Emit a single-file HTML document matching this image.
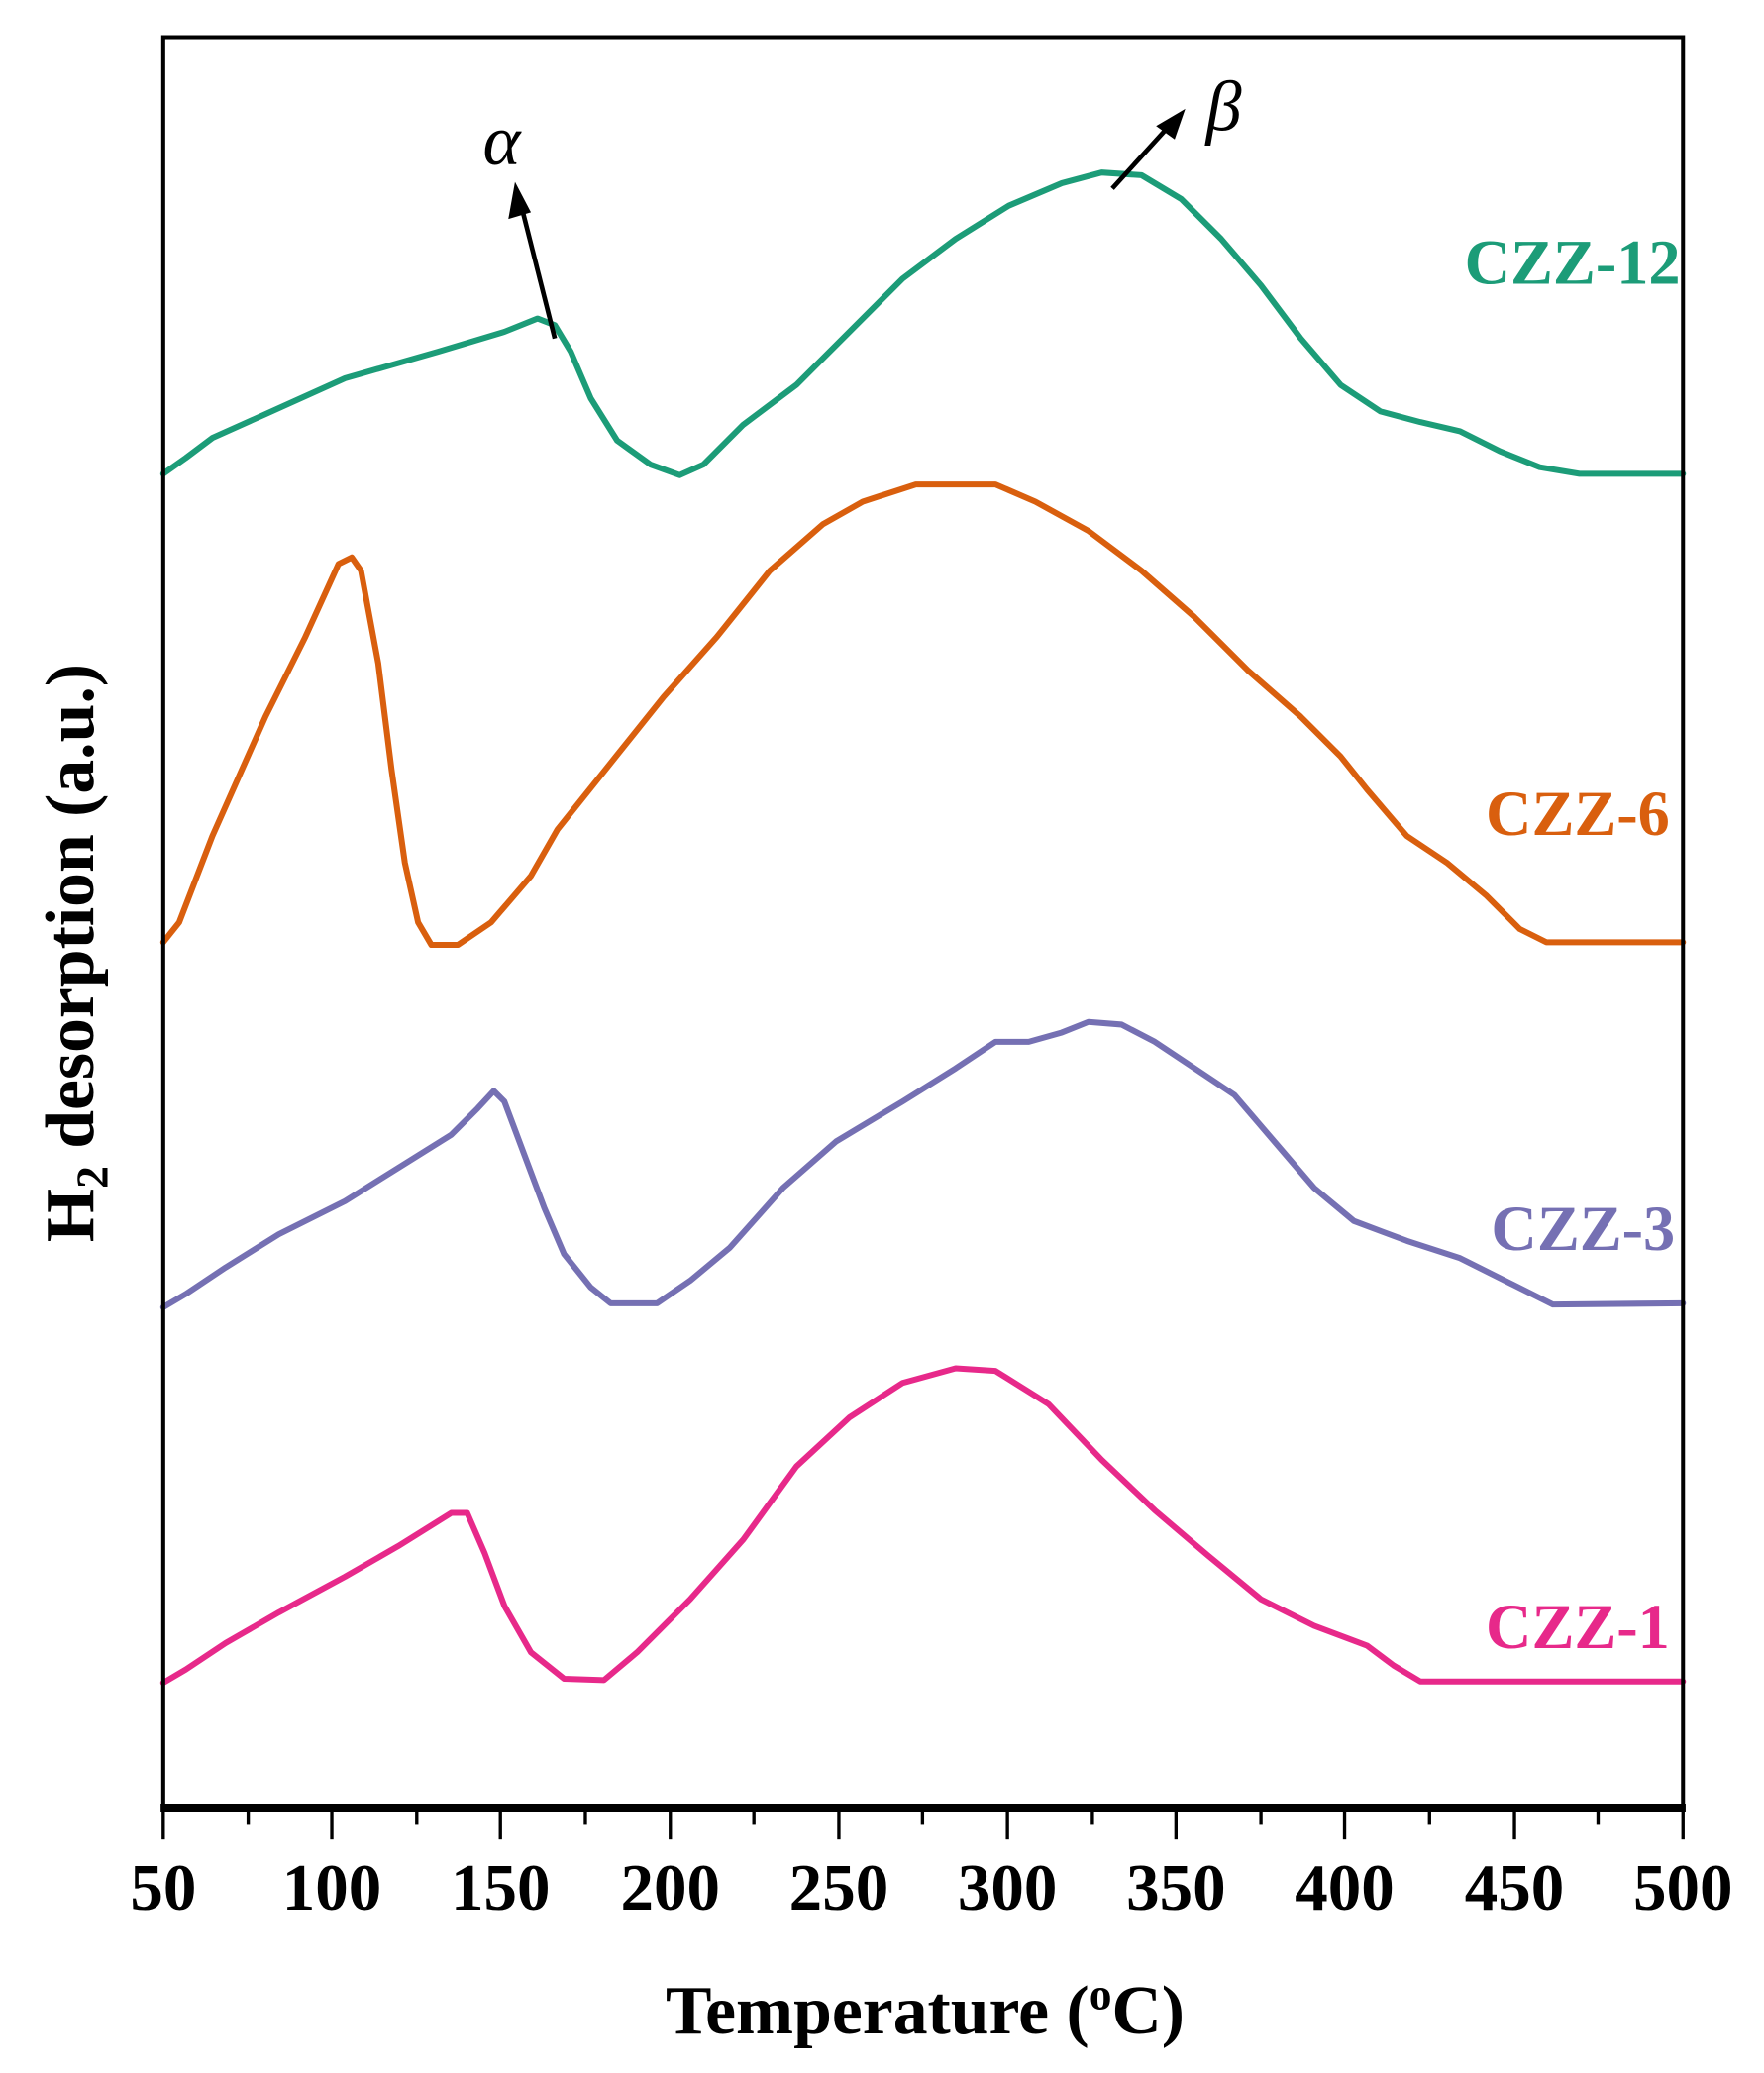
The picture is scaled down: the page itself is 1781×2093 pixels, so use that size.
<!DOCTYPE html>
<html><head><meta charset="utf-8"><style>html,body{margin:0;padding:0;background:#fff}svg{display:block}</style></head>
<body>
<svg width="1781" height="2093" viewBox="0 0 1329 1562" preserveAspectRatio="none" xmlns="http://www.w3.org/2000/svg" font-family="Liberation Serif, serif">
<g fill="none" stroke-width="4.5" stroke-linejoin="round" stroke-linecap="round">
<polyline stroke="#1c9c78" points="123,357 140,345 160,330 200,312 260,285 330,265 380,250 405,240 418,245 430,265 445,300 465,332 490,350 512,358 530,350 560,320 600,290 630,260 680,210 720,180 760,155 800,138 830,130 860,132 890,150 920,180 950,215 980,255 1010,290 1040,310 1070,318 1100,325 1130,340 1160,352 1190,357 1268,357"/>
<polyline stroke="#d95f0e" points="123,710 135,695 160,630 200,540 230,480 255,425 265,420 272,430 285,500 295,580 305,650 315,695 325,712 345,712 370,695 400,660 420,625 460,575 500,525 540,480 580,430 620,395 650,378 690,365 750,365 780,378 820,400 860,430 900,465 940,505 980,540 1010,570 1030,595 1060,630 1090,650 1120,675 1145,700 1165,710 1268,710"/>
<polyline stroke="#7570b3" points="123,985 140,975 170,955 210,930 260,905 300,880 340,855 360,835 372,822 380,830 395,870 410,910 425,945 445,970 460,982 495,982 520,965 550,940 590,895 630,860 680,830 720,805 750,785 775,785 800,778 820,770 845,772 870,785 900,805 930,825 960,860 990,895 1020,920 1060,935 1100,948 1140,968 1170,983 1268,982"/>
<polyline stroke="#e7298a" points="123,1268 140,1258 170,1238 210,1215 260,1188 300,1165 340,1140 352,1140 365,1170 380,1210 400,1245 425,1265 455,1266 480,1245 520,1205 560,1160 600,1105 640,1068 680,1042 720,1031 750,1033 790,1058 830,1100 870,1138 910,1172 950,1205 990,1225 1030,1240 1050,1255 1070,1267 1268,1267"/>
</g>
<g stroke="#000" fill="none">
<rect x="123" y="28" width="1145" height="1334" stroke-width="3"/>
<line x1="121" y1="1362" x2="1270" y2="1362" stroke-width="6"/>
<g stroke-width="2.5">
<line x1="123" y1="1362" x2="123" y2="1386"/><line x1="187" y1="1362" x2="187" y2="1375"/>
<line x1="250" y1="1362" x2="250" y2="1386"/><line x1="314" y1="1362" x2="314" y2="1375"/>
<line x1="377" y1="1362" x2="377" y2="1386"/><line x1="441" y1="1362" x2="441" y2="1375"/>
<line x1="505" y1="1362" x2="505" y2="1386"/><line x1="568" y1="1362" x2="568" y2="1375"/>
<line x1="632" y1="1362" x2="632" y2="1386"/><line x1="695" y1="1362" x2="695" y2="1375"/>
<line x1="759" y1="1362" x2="759" y2="1386"/><line x1="823" y1="1362" x2="823" y2="1375"/>
<line x1="886" y1="1362" x2="886" y2="1386"/><line x1="950" y1="1362" x2="950" y2="1375"/>
<line x1="1013" y1="1362" x2="1013" y2="1386"/><line x1="1077" y1="1362" x2="1077" y2="1375"/>
<line x1="1141" y1="1362" x2="1141" y2="1386"/><line x1="1204" y1="1362" x2="1204" y2="1375"/>
<line x1="1268" y1="1362" x2="1268" y2="1386"/>
</g>
<line x1="418" y1="255" x2="394" y2="160" stroke-width="3.5"/>
<line x1="838" y1="142" x2="878" y2="98" stroke-width="3.5"/>
</g>
<polygon points="388,137 383,165 400,160" fill="#000"/>
<polygon points="893,82 871,95 885,105" fill="#000"/>
<text x="378" y="124" font-size="54" font-style="italic" text-anchor="middle">α</text>
<text x="922" y="98" font-size="54" font-style="italic" text-anchor="middle">β</text>
<g font-size="48" font-weight="bold" text-anchor="end">
<text x="1266" y="214" fill="#1c9c78">CZZ-12</text>
<text x="1258" y="629" fill="#d95f0e">CZZ-6</text>
<text x="1262" y="942" fill="#7570b3">CZZ-3</text>
<text x="1258" y="1242" fill="#e7298a">CZZ-1</text>
</g>
<g font-size="50" font-weight="bold" text-anchor="middle">
<text x="123" y="1439">50</text><text x="250" y="1439">100</text><text x="377" y="1439">150</text>
<text x="505" y="1439">200</text><text x="632" y="1439">250</text><text x="759" y="1439">300</text>
<text x="886" y="1439">350</text><text x="1013" y="1439">400</text><text x="1141" y="1439">450</text>
<text x="1268" y="1439">500</text>
</g>
<text x="697" y="1532" font-size="52" font-weight="bold" text-anchor="middle">Temperature (<tspan font-size="34" dy="-18">o</tspan><tspan dy="18">C)</tspan></text>
<text transform="translate(70,718) rotate(-90)" font-size="52" font-weight="bold" text-anchor="middle">H<tspan font-size="34" dy="11">2</tspan><tspan dy="-11"> desorption (a.u.)</tspan></text>
</svg>
</body></html>
